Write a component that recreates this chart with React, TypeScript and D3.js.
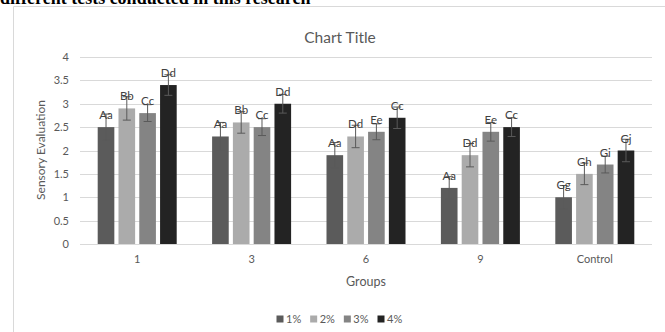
import React from "react";
import * as d3 from "d3";

const groups = ["1", "3", "6", "9", "Control"];
const seriesNames = ["1%", "2%", "3%", "4%"];
const seriesColors = ["#5b5b5b", "#ababab", "#848484", "#232323"];

// mean scores, one array per concentration, in group order
const values1 = [2.5, 2.3, 1.9, 1.2, 1.0];
const values2 = [2.9, 2.6, 2.3, 1.9, 1.5];
const values3 = [2.8, 2.5, 2.4, 2.4, 1.7];
const values4 = [3.4, 3.0, 2.7, 2.5, 2.0];

// standard deviations
const errors1 = [0.28, 0.3, 0.27, 0.24, 0.25];
const errors2 = [0.25, 0.23, 0.24, 0.25, 0.23];
const errors3 = [0.18, 0.18, 0.17, 0.2, 0.18];
const errors4 = [0.22, 0.2, 0.23, 0.2, 0.24];

// significance letters
const letters1 = ["Aa", "Aa", "Aa", "Aa", "Gg"];
const letters2 = ["Bb", "Bb", "Dd", "Dd", "Gh"];
const letters3 = ["Cc", "Cc", "Ee", "Ee", "Gi"];
const letters4 = ["Dd", "Dd", "Cc", "Cc", "Gj"];

const yTicks = [0, 0.5, 1, 1.5, 2, 2.5, 3, 3.5, 4];

const W = 665;
const H = 332;
const plot = { left: 80, right: 652, top: 57, bottom: 244 };
const font = "Lato, 'Open Sans', sans-serif";

export default function App() {
  const series = [
    { values: values1, errors: errors1, letters: letters1 },
    { values: values2, errors: errors2, letters: letters2 },
    { values: values3, errors: errors3, letters: letters3 },
    { values: values4, errors: errors4, letters: letters4 },
  ];

  const x0 = d3.scaleBand<string>().domain(groups).range([plot.left, plot.right]);
  const outer = (x0.bandwidth() - 79) / 2;
  const x1 = d3
    .scaleBand<string>()
    .domain(seriesNames)
    .range([outer, x0.bandwidth() - outer])
    .paddingInner(0.2);
  const y = d3.scaleLinear().domain([0, 4]).range([plot.bottom, plot.top]);

  const legendX = d3.scalePoint<string>().domain(seriesNames).range([280, 381]);

  return (
    <div style={{ position: "fixed", left: 0, top: 0 }}>
      <svg width={W} height={H} style={{ display: "block", background: "#fff" }}>
        {/* caption line running on from the page above the chart */}
        <text
          x={0}
          y={4}
          fontFamily="'Liberation Serif', serif"
          fontWeight="bold"
          fontSize={18}
          fill="#000"
        >
          different tests conducted in this research
        </text>
        <path d={`M13.5,${H} V6.5 H${W}`} fill="none" stroke="#d9d9d9" strokeWidth={1} />

        <text x={340} y={43} textAnchor="middle" fontFamily={font} fontSize={15.5} fill="#595959">
          Chart Title
        </text>

        {yTicks.map((t) => (
          <g key={t}>
            <line
              x1={plot.left}
              x2={plot.right}
              y1={Math.round(y(t)) + 0.5}
              y2={Math.round(y(t)) + 0.5}
              stroke="#d9d9d9"
            />
            <text
              x={69}
              y={y(t) + 4}
              textAnchor="end"
              fontFamily={font}
              fontSize={11}
              fill="#595959"
            >
              {t}
            </text>
          </g>
        ))}

        <text
          transform={`translate(45,150) rotate(-90)`}
          textAnchor="middle"
          fontFamily={font}
          fontSize={12}
          fill="#595959"
        >
          Sensory Evaluation
        </text>

        {groups.map((g, gi) => (
          <g key={g} transform={`translate(${x0(g)},0)`}>
            {series.map((s, si) => {
              const bx = x1(seriesNames[si])!;
              const bw = x1.bandwidth();
              const cx = bx + bw / 2;
              const v = s.values[gi];
              const e = s.errors[gi];
              return (
                <g key={si}>
                  <rect
                    x={bx}
                    y={y(v)}
                    width={bw}
                    height={y(0) - y(v)}
                    fill={seriesColors[si]}
                  />
                  <line x1={cx} x2={cx} y1={y(v + e)} y2={y(v - e)} stroke="#5a5a5a" strokeWidth={1} />
                  <line x1={cx - 4} x2={cx + 4} y1={y(v + e)} y2={y(v + e)} stroke="#5a5a5a" strokeWidth={1} />
                  <line x1={cx - 4} x2={cx + 4} y1={y(v - e)} y2={y(v - e)} stroke="#5a5a5a" strokeWidth={1} />
                  <text
                    x={cx}
                    y={y(v) - 8}
                    textAnchor="middle"
                    fontFamily={font}
                    fontSize={11.5}
                    fill="#404040"
                  >
                    {s.letters[gi]}
                  </text>
                </g>
              );
            })}
            <text
              x={x0.bandwidth() / 2}
              y={263}
              textAnchor="middle"
              fontFamily={font}
              fontSize={11}
              fill="#595959"
            >
              {g}
            </text>
          </g>
        ))}

        <text
          x={(plot.left + plot.right) / 2}
          y={286}
          textAnchor="middle"
          fontFamily={font}
          fontSize={12.5}
          fill="#595959"
        >
          Groups
        </text>

        {seriesNames.map((n, i) => (
          <g key={n} transform={`translate(${legendX(n)},319)`}>
            <rect x={-3.5} y={-3.5} width={7} height={7} fill={seriesColors[i]} />
            <text x={6} y={4} fontFamily={font} fontSize={11} fill="#595959">
              {n}
            </text>
          </g>
        ))}
      </svg>
    </div>
  );
}
